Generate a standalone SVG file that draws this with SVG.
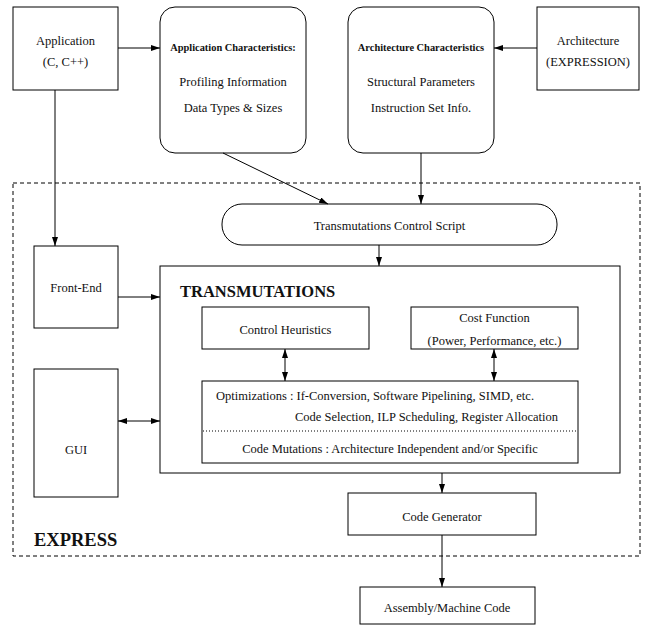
<svg xmlns="http://www.w3.org/2000/svg" width="645" height="630" viewBox="0 0 645 630">
<defs>
<marker id="ah" markerUnits="userSpaceOnUse" markerWidth="10" markerHeight="8" refX="9" refY="3" orient="auto-start-reverse">
<path d="M0,0 L9,3 L0,6 z" fill="#000"/>
</marker>
<style>
.box{fill:#fff;stroke:#000;stroke-width:1}
.t{font-family:"Liberation Serif","Times New Roman",serif;font-size:12.5px;fill:#111;text-anchor:middle}
.tb{font-family:"Liberation Serif","Times New Roman",serif;font-size:10.4px;font-weight:bold;fill:#111;text-anchor:middle}
.big{font-family:"Liberation Serif","Times New Roman",serif;font-weight:bold;fill:#111}
.c{fill:none;stroke:#000;stroke-width:1}
.a{marker-end:url(#ah)}
.d{marker-start:url(#ah);marker-end:url(#ah)}
</style>
</defs>
<rect width="645" height="630" fill="#fff"/>

<g id="express">
<rect x="13" y="183" width="627" height="373" fill="none" stroke="#000" stroke-width="1" stroke-dasharray="4,3"/>
<text class="big" x="34" y="546" font-size="18.5px">EXPRESS</text>
</g>

<g id="application">
<rect class="box" x="13" y="7" width="105" height="83"/>
<text class="t" x="65.5" y="45">Application</text>
<text class="t" x="65.5" y="66">(C, C++)</text>
</g>

<g id="app-char">
<rect class="box" x="160" y="7" width="146" height="146" rx="15"/>
<text class="tb" x="233" y="51">Application Characteristics:</text>
<text class="t" x="233" y="86">Profiling Information</text>
<text class="t" x="233" y="112">Data Types &amp; Sizes</text>
</g>

<g id="arch-char">
<rect class="box" x="348" y="7" width="146" height="146" rx="15"/>
<text class="tb" x="421" y="51">Architecture Characteristics</text>
<text class="t" x="421" y="86">Structural Parameters</text>
<text class="t" x="421" y="112">Instruction Set Info.</text>
</g>

<g id="architecture">
<rect class="box" x="537" y="7" width="102" height="83"/>
<text class="t" x="588" y="45">Architecture</text>
<text class="t" x="588" y="66">(EXPRESSION)</text>
</g>

<g id="control-script">
<rect class="box" x="222" y="204" width="335" height="41" rx="20"/>
<text class="t" x="389.5" y="230">Transmutations Control Script</text>
</g>

<g id="front-end">
<rect class="box" x="34" y="246" width="84" height="82"/>
<text class="t" x="76" y="292">Front-End</text>
</g>

<g id="gui">
<rect class="box" x="34" y="369" width="84" height="128"/>
<text class="t" x="76" y="454" font-size="17.5px">GUI</text>
</g>

<g id="transmutations">
<rect class="box" x="160" y="266" width="460" height="207"/>
<text class="big" x="180" y="297" font-size="16.5px">TRANSMUTATIONS</text>
</g>

<g id="control-heuristics">
<rect class="box" x="202" y="307" width="167" height="42"/>
<text class="t" x="285.5" y="334">Control Heuristics</text>
</g>

<g id="cost-function">
<rect class="box" x="411" y="307" width="167" height="42"/>
<text class="t" x="494.5" y="322">Cost Function</text>
<text class="t" x="494.5" y="345">(Power, Performance, etc.)</text>
</g>

<g id="optimizations">
<rect class="box" x="202" y="381" width="376" height="82"/>
<text class="t" x="216" y="400" style="text-anchor:start">Optimizations : If-Conversion, Software Pipelining, SIMD, etc.</text>
<text class="t" x="558" y="421" style="text-anchor:end">Code Selection, ILP Scheduling, Register Allocation</text>
<line x1="203" y1="431" x2="577" y2="431" stroke="#000" stroke-width="1" stroke-dasharray="1,2"/>
<text class="t" x="390" y="453">Code Mutations : Architecture Independent and/or Specific</text>
</g>

<g id="code-generator">
<rect class="box" x="348" y="493" width="188" height="42"/>
<text class="t" x="442" y="521">Code Generator</text>
</g>

<g id="assembly">
<rect class="box" x="360" y="587" width="175" height="37"/>
<text class="t" x="447" y="612">Assembly/Machine Code</text>
</g>

<g id="connectors">
<line class="c a" x1="118" y1="48" x2="160" y2="48"/>
<line class="c a" x1="537" y1="48" x2="494" y2="48"/>
<line class="c a" x1="55" y1="90" x2="55" y2="246"/>
<line class="c a" x1="223" y1="153" x2="328" y2="204"/>
<line class="c a" x1="421" y1="153" x2="421" y2="204"/>
<line class="c a" x1="379" y1="245" x2="379" y2="266"/>
<line class="c a" x1="118" y1="297" x2="160" y2="297"/>
<line class="c d" x1="285" y1="349" x2="285" y2="381"/>
<line class="c d" x1="494" y1="349" x2="494" y2="381"/>
<line class="c d" x1="118" y1="421" x2="160" y2="421"/>
<line class="c a" x1="442" y1="473" x2="442" y2="493"/>
<line class="c a" x1="442" y1="535" x2="442" y2="587"/>
</g>
</svg>
